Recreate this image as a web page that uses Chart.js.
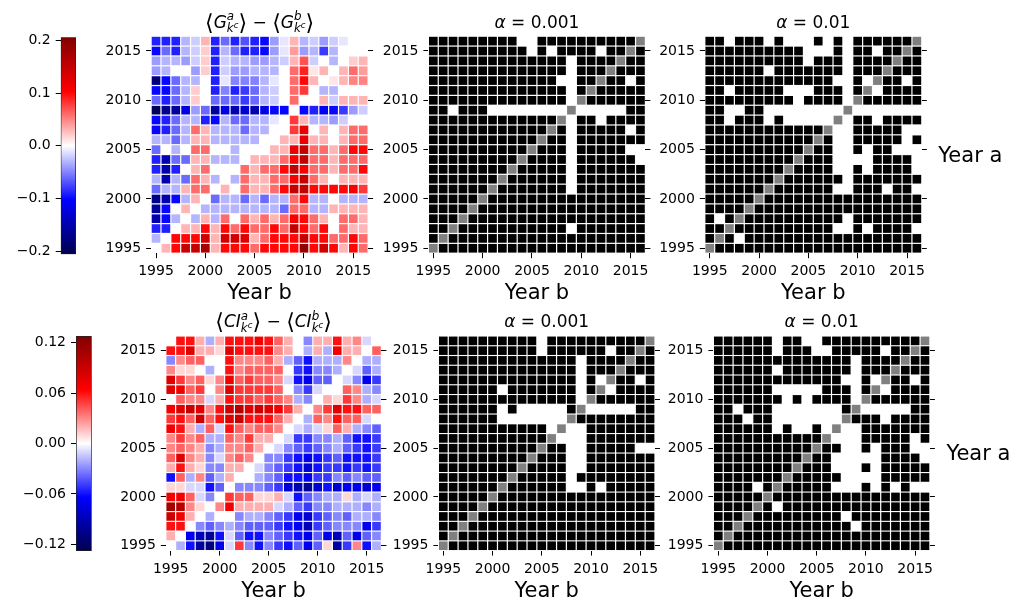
<!DOCTYPE html>
<html>
<head>
<meta charset="utf-8">
<script src="https://cdn.jsdelivr.net/npm/chart.js@4.4.0/dist/chart.umd.min.js"></script>
<style>
  html, body { margin: 0; padding: 0; background: #fff; }
  #wrap { position: relative; width: 1022px; height: 603px; overflow: hidden; background: #fff; }
  #wrap canvas { position: absolute; left: 0; top: 0; }
</style>
</head>
<body>
<div id="wrap"></div>
<script>
// ---- data -------------------------------------------------------------
const years = [1995,1996,1997,1998,1999,2000,2001,2002,2003,2004,2005,2006,2007,2008,2009,2010,2011,2012,2013,2014,2015,2016];
const rowYears = [2016,2015,2014,2013,2012,2011,2010,2009,2008,2007,2006,2005,2004,2003,2002,2001,2000,1999,1998,1997,1996,1995];
const tickYears = [1995,2000,2005,2010,2015];

const gTicks = [-0.2,-0.1,0,0.1,0.2];
const gTickLabels = ['\u22120.2','\u22120.1','0.0','0.1','0.2'];
const ciTicks = [-0.12,-0.06,0,0.06,0.12];
const ciTickLabels = ['\u22120.12','\u22120.06','0.00','0.06','0.12'];

// <G^a> - <G^b>, one row per year a (2016 at the top), columns are year b 1995..2016
const gDiff = [
  [-0.09,-0.09,-0.09,-0.03,-0.02,0.03,-0.09,-0.06,-0.09,-0.07,-0.09,-0.10,-0.04,-0.01,0.03,-0.03,-0.02,-0.04,-0.02,-0.01,0.00,0.00],
  [-0.10,-0.06,-0.09,-0.03,-0.02,0.02,-0.09,-0.03,-0.06,-0.09,-0.09,-0.10,-0.04,-0.01,0.04,-0.04,-0.03,-0.08,-0.03,0.00,0.00,0.00],
  [-0.04,-0.03,-0.03,-0.04,-0.02,0.02,-0.09,-0.02,-0.03,-0.03,-0.04,-0.04,-0.03,-0.02,0.03,0.07,-0.02,0.00,-0.03,0.00,0.02,0.03],
  [-0.04,-0.03,0.00,0.00,-0.04,0.02,-0.09,-0.02,-0.04,-0.04,-0.03,-0.03,-0.03,0.00,0.06,0.09,0.01,0.03,0.00,0.03,0.06,0.04],
  [-0.18,-0.10,-0.06,-0.03,-0.03,0.00,-0.09,-0.01,-0.05,-0.05,-0.05,-0.03,-0.01,0.00,0.06,0.10,0.03,0.00,0.01,0.03,0.05,0.05],
  [-0.10,-0.10,-0.06,-0.03,0.02,0.00,-0.09,-0.05,-0.09,-0.08,-0.06,-0.03,-0.02,0.00,0.06,0.08,0.00,-0.03,-0.03,0.00,0.00,0.00],
  [-0.06,-0.09,-0.06,-0.03,0.02,0.00,-0.06,-0.06,-0.06,-0.08,-0.06,-0.03,-0.02,0.00,0.06,0.00,0.00,0.03,-0.02,0.03,0.03,0.03],
  [-0.20,-0.17,-0.16,-0.12,-0.04,-0.06,-0.16,-0.12,-0.15,-0.13,-0.15,-0.12,-0.10,-0.10,0.00,-0.10,-0.09,-0.11,-0.10,-0.08,-0.04,-0.02],
  [-0.10,-0.09,-0.06,-0.03,-0.03,-0.09,-0.10,-0.03,-0.06,-0.06,-0.03,-0.03,-0.01,0.00,0.08,0.03,-0.03,-0.03,-0.04,-0.02,0.00,0.00],
  [-0.10,-0.09,-0.06,-0.03,0.06,0.03,-0.03,-0.03,-0.03,-0.06,-0.03,-0.03,0.00,0.00,0.08,0.12,0.00,0.03,0.00,0.03,0.06,0.06],
  [-0.03,-0.03,-0.06,-0.03,0.03,0.03,-0.03,-0.03,-0.03,-0.03,-0.03,0.00,0.00,0.03,0.03,0.12,0.03,0.03,0.00,0.03,0.06,0.06],
  [-0.06,0.00,-0.03,0.00,0.06,0.06,0.00,0.00,-0.03,0.00,0.00,0.00,0.03,0.03,0.12,0.15,0.06,0.06,0.03,0.06,0.10,0.10],
  [-0.09,-0.15,-0.06,-0.06,0.03,0.03,-0.03,-0.03,-0.03,0.00,0.03,0.03,0.03,0.06,0.11,0.15,0.06,0.06,0.03,0.06,0.06,0.06],
  [-0.09,-0.15,-0.09,0.00,0.03,0.06,0.00,0.00,0.00,0.06,0.03,0.06,0.06,0.10,0.15,0.11,0.06,0.06,0.03,0.06,0.06,0.10],
  [-0.03,-0.15,-0.03,-0.06,0.06,0.03,-0.03,0.00,-0.03,0.06,0.03,0.03,0.06,0.06,0.11,0.15,0.06,0.03,0.00,0.03,0.03,0.03],
  [-0.06,-0.03,-0.03,0.03,0.06,0.06,0.00,0.03,0.00,0.06,0.03,0.03,0.06,0.10,0.15,0.15,0.10,0.10,0.10,0.10,0.11,0.08],
  [-0.17,-0.15,-0.10,-0.03,0.03,0.00,-0.06,-0.03,-0.03,-0.06,-0.03,-0.06,-0.03,-0.03,0.06,0.10,-0.03,-0.03,0.00,-0.03,-0.03,-0.03],
  [-0.16,-0.10,0.00,0.03,0.00,-0.03,-0.03,-0.03,-0.03,-0.03,-0.03,-0.03,-0.03,-0.06,0.06,0.06,-0.03,-0.03,0.03,0.03,0.03,0.03],
  [-0.15,-0.10,-0.03,0.00,-0.03,0.03,-0.03,0.06,0.00,0.06,0.03,0.06,0.03,0.06,0.11,0.10,0.06,0.03,0.00,0.06,0.06,0.03],
  [-0.09,-0.09,0.00,0.03,0.03,0.10,0.03,0.10,0.06,0.10,0.06,0.06,0.10,0.06,0.15,0.10,0.06,0.10,0.00,0.06,0.03,0.03],
  [-0.03,0.00,0.10,0.10,0.10,0.14,0.03,0.14,0.14,0.13,0.03,0.06,0.10,0.10,0.10,0.15,0.10,0.10,0.06,0.06,0.10,0.06],
  [0.00,0.03,0.10,0.15,0.15,0.17,0.03,0.10,0.10,0.10,0.06,0.10,0.10,0.10,0.10,0.19,0.10,0.14,0.10,0.03,0.10,0.06]
];

// <CI^a> - <CI^b>, same layout
const ciDiff = [
  [0.00,0.06,0.06,0.02,-0.02,0.02,0.06,0.06,0.06,0.07,0.06,0.04,0.02,0.00,-0.03,0.02,0.02,0.06,0.02,0.03,-0.01,0.00],
  [0.06,0.06,0.08,0.02,0.02,0.01,0.08,0.06,0.06,0.06,0.06,0.03,0.02,0.00,-0.02,0.02,-0.02,0.07,0.02,0.02,0.00,0.04],
  [-0.03,0.03,0.04,0.04,0.00,0.00,0.06,0.03,0.03,0.03,0.04,0.02,-0.02,-0.04,-0.06,-0.02,-0.02,-0.02,0.03,0.00,-0.02,-0.02],
  [0.03,0.01,0.01,0.00,-0.02,0.00,0.06,0.03,0.04,0.04,0.04,0.04,0.00,-0.05,-0.06,-0.03,-0.03,-0.02,0.00,-0.01,-0.04,-0.02],
  [0.08,0.05,0.03,0.04,0.01,0.03,0.07,0.04,0.05,0.04,0.04,0.03,-0.01,-0.06,-0.07,-0.04,-0.04,0.00,-0.01,-0.03,-0.07,-0.05],
  [0.08,0.07,0.04,0.05,0.00,0.03,0.08,0.05,0.05,0.05,0.05,0.04,0.00,-0.03,-0.05,-0.01,0.00,0.00,0.04,0.03,-0.02,-0.03],
  [0.00,0.04,0.03,0.03,-0.01,0.02,0.06,0.05,0.05,0.04,0.05,0.04,0.03,-0.02,-0.03,0.00,0.02,0.01,0.05,0.03,-0.02,-0.01],
  [0.07,0.08,0.09,0.08,0.03,0.06,0.09,0.10,0.08,0.09,0.08,0.07,0.05,0.02,0.00,0.03,0.05,0.08,0.06,0.06,0.04,0.04],
  [0.05,0.06,0.04,0.09,0.04,0.06,0.08,0.09,0.06,0.06,0.06,0.04,0.02,0.00,-0.02,0.04,0.03,0.06,0.04,0.04,-0.01,0.00],
  [0.07,0.06,0.02,-0.02,0.04,-0.01,0.06,0.04,0.03,0.04,0.04,0.03,0.00,-0.01,-0.02,-0.01,0.01,0.04,0.02,-0.02,-0.03,-0.04],
  [0.03,0.05,0.03,0.04,-0.02,-0.02,0.04,0.03,0.05,0.02,0.02,0.00,-0.01,-0.05,-0.05,-0.03,-0.03,-0.02,-0.04,-0.06,-0.06,-0.05],
  [0.03,0.04,0.03,0.02,-0.03,-0.02,0.03,0.03,0.04,0.02,0.00,-0.01,-0.03,-0.04,-0.05,-0.04,-0.03,-0.02,-0.04,-0.05,-0.06,-0.05],
  [0.04,0.08,0.03,0.02,-0.03,-0.01,0.03,0.04,0.03,0.00,-0.03,-0.03,-0.05,-0.06,-0.07,-0.06,-0.05,-0.04,-0.06,-0.06,-0.06,-0.05],
  [0.02,0.06,0.02,0.01,-0.03,-0.03,0.02,0.02,0.00,-0.01,-0.03,-0.04,-0.05,-0.06,-0.08,-0.06,-0.05,-0.05,-0.06,-0.05,-0.06,-0.05],
  [-0.06,0.04,-0.02,0.03,-0.04,-0.02,0.02,0.00,0.00,-0.02,-0.03,-0.04,-0.06,-0.06,-0.07,-0.05,-0.05,-0.03,-0.04,-0.03,-0.04,-0.04],
  [0.01,0.01,-0.01,-0.01,-0.06,-0.04,0.00,-0.03,-0.03,-0.03,-0.04,-0.05,-0.08,-0.09,-0.10,-0.08,-0.06,-0.08,-0.07,-0.07,-0.08,-0.07],
  [0.07,0.07,0.04,-0.01,-0.03,0.00,0.05,0.04,0.04,0.01,0.01,0.02,-0.01,-0.06,-0.04,-0.03,-0.02,-0.02,0.01,-0.02,-0.01,-0.02],
  [0.11,0.10,0.03,0.01,0.00,0.03,0.07,0.02,0.02,0.02,0.02,-0.01,-0.02,-0.04,-0.05,-0.03,-0.03,-0.02,-0.02,-0.02,-0.03,-0.02],
  [0.09,0.07,0.02,0.00,-0.02,0.00,0.00,-0.03,-0.02,-0.02,-0.03,-0.04,-0.05,-0.07,-0.08,-0.05,-0.04,-0.03,-0.04,-0.02,-0.02,-0.03],
  [0.06,0.06,0.00,-0.03,-0.04,-0.03,-0.02,-0.03,-0.04,-0.04,-0.04,-0.05,-0.06,-0.07,-0.09,-0.05,-0.04,-0.03,-0.03,-0.03,-0.07,-0.05],
  [0.02,0.00,-0.07,-0.09,-0.10,-0.06,-0.01,-0.04,-0.06,-0.06,-0.03,-0.04,-0.05,-0.06,-0.07,-0.04,-0.07,-0.09,-0.04,-0.07,-0.04,-0.03],
  [0.00,-0.02,-0.06,-0.10,-0.11,-0.07,-0.01,0.05,-0.03,-0.06,-0.03,-0.05,-0.06,-0.04,-0.07,-0.04,0.01,-0.10,-0.05,0.03,-0.06,-0.02]
];

// test outcome for each pair: 1 = black, 0 = white, 2 = same year
const gSig001 = [
  '1111111110011111111112','1111111111010111101121','1111111111111101111211','1111111111111101112111',
  '1111111111111001121101','1111111111111101211111','1111111111111102111111','1101110000000020000011',
  '1111111111111201101111','1111111111112101111101','1111111111121101111111','1111111111211101111100',
  '1111111112111101111110','1111111121111101111111','1111111211111101111111','1111112111111101111111',
  '1111121111111111111111','1111211111111111111111','1112111111111111111111','1121111111111101111111',
  '1211111111111111111111','2111111111111111111111'
];
const gSig01 = [
  '1101110100010101111112','1111111111000101101121','1111111111011101111211','1111110111111101112111',
  '1111111111111001021101','1101111100011101201111','1111111110111102111111','1100110000000020000000',
  '1101110100000201101111','1111111111112001111100','1111111111121001111101','1111111111211001011000',
  '1111111112111000011110','1111111121111001011110','1111111211111101111111','1111112111111001110110',
  '1111121111111111111111','1111211111111111111111','1012111111111101111111','1121111111111001011110',
  '1210111111111111111111','2111111111111111111111'
];
const ciSig001 = [
  '1111111111011111111112','1111111111011111101121','1111111111111101111211','1111111111111101112111',
  '1111111111111101021101','1111110111111101201111','1111111111111102111111','1111110100000120000011',
  '1111110000000211111111','1111111111102001111111','1111111111120001111111','1111111111211001111100',
  '1111111112111001111111','1111111121111001111111','1111111211111011111111','1111112111111001011111',
  '1111121111111111111111','1111211111111111111111','1112111111111111111111','1121111111111111111111',
  '1211111111111111111111','2111111111111111111111'
];
const ciSig01 = [
  '1111110110011111111112','1111110111001111101121','1111111111111101111211','1111110111111101112111',
  '1111111111111001021101','1111110000011101201111','1111111010111102111111','1101110000000120000011',
  '1110110000000211101111','1111110100102001111111','1111111111120001111101','1111111111211001011100',
  '1111111112110000011110','1111111121110001011111','1111111211111000011111','1111012111110001010100',
  '1111121111111111111111','1111210111111111111111','1112111111111011111111','1121111111111101111111',
  '1211111111111111111111','2111111111111111111111'
];

// ---- drawing helpers --------------------------------------------------
const FONT = "'DejaVu Sans', sans-serif";
const W = 1022, H = 603;
Chart.defaults.font.family = FONT;
Chart.defaults.color = '#000';
const wrap = document.getElementById('wrap');

function addCanvas() {
  const c = document.createElement('canvas');
  c.width = W; c.height = H;
  c.style.width = W + 'px'; c.style.height = H + 'px';
  wrap.appendChild(c);
  return c;
}

// matplotlib "seismic" colormap
const seismicStops = [[0, 0, 0, 77], [0.25, 0, 0, 255], [0.5, 255, 255, 255], [0.75, 255, 0, 0], [1, 128, 0, 0]];
function seismic(t) {
  t = Math.max(0, Math.min(1, t));
  for (let i = 1; i < seismicStops.length; i++) {
    if (t <= seismicStops[i][0]) {
      const a = seismicStops[i - 1], b = seismicStops[i];
      const f = (t - a[0]) / (b[0] - a[0]);
      const c = k => Math.round(a[k] + (b[k] - a[k]) * f);
      return `rgb(${c(1)},${c(2)},${c(3)})`;
    }
  }
  return 'rgb(128,0,0)';
}
const sigColors = ['#ffffff', '#000000', '#808080'];

function toRows(strs) { return strs.map(s => s.split('').map(Number)); }

// text with simple super/subscripts
function mathWidth(ctx, items, size) {
  let w = 0;
  items.forEach(it => {
    if (it.sup || it.sub) {
      w += Math.max(mathWidth(ctx, it.sup || [], size * 0.7), mathWidth(ctx, it.sub || [], size * 0.7));
    } else {
      ctx.font = `${it.it ? 'italic ' : ''}${size * (it.s || 1)}px ${FONT}`;
      w += ctx.measureText(it.t).width;
    }
  });
  return w;
}
function mathDraw(ctx, items, x, y, size) {
  items.forEach(it => {
    if (it.sup || it.sub) {
      const ws = it.sup ? mathDraw(ctx, it.sup, x, y - size * 0.44, size * 0.7) - x : 0;
      const wb = it.sub ? mathDraw(ctx, it.sub, x, y + size * 0.26, size * 0.7) - x : 0;
      x += Math.max(ws, wb);
    } else {
      const s = size * (it.s || 1);
      ctx.font = `${it.it ? 'italic ' : ''}${s}px ${FONT}`;
      ctx.fillText(it.t, x, y - (it.up || 0) * size);
      x += ctx.measureText(it.t).width;
    }
  });
  return x;
}
function diffTitle(letters) {
  const one = sup => [
    { t: '\u27E8', s: 1.3, up: -0.12 },
    ...letters.map(l => ({ t: l, it: true })),
    { sup: [{ t: sup, it: true }], sub: [{ t: 'k', it: true }, { t: 'c', it: true, s: 0.72, up: 0.3 }] },
    { t: '\u27E9', s: 1.3, up: -0.12 }
  ];
  return [...one('a'), { t: ' \u2212 ' }, ...one('b')];
}
function alphaTitle(level) { return [{ t: '\u03B1', it: true }, { t: ' = ' + level }]; }

function yearAxis(pos, size, showLabels) {
  const horiz = pos === 'bottom';
  return {
    type: 'linear', position: pos, min: 1994.5, max: 2016.5,
    afterBuildTicks: s => { s.ticks = tickYears.map(v => ({ value: v })); },
    afterFit: s => { if (horiz) s.height = size; else s.width = size; },
    ticks: { display: showLabels, callback: v => String(v), color: '#000', font: { family: FONT, size: 14 },
             padding: 5, maxRotation: 0, minRotation: 0, autoSkip: false },
    grid: { display: true, drawOnChartArea: false, drawTicks: true, tickLength: 5, tickColor: '#000', tickWidth: 1 },
    border: { display: false }
  };
}

function panelText(p) {
  return {
    id: 'panelText',
    afterDraw(chart) {
      const ctx = chart.ctx, a = chart.chartArea;
      const cx = (a.left + a.right) / 2;
      ctx.save();
      ctx.fillStyle = '#000';
      ctx.textAlign = 'left';
      ctx.textBaseline = 'alphabetic';
      const tw = mathWidth(ctx, p.title, 17);
      mathDraw(ctx, p.title, cx - tw / 2, a.top - 8.7, 17);
      ctx.font = `21px ${FONT}`;
      ctx.textAlign = 'center';
      ctx.fillText('Year b', cx, a.bottom + 46);
      if (p.yearA) {
        ctx.textAlign = 'left';
        ctx.fillText('Year a', a.right + 16.5, (a.top + a.bottom) / 2 + 17);
      }
      ctx.restore();
    }
  };
}

function heatmap(p) {
  const canvas = addCanvas();
  const pts = [];
  p.rows.forEach((row, i) => row.forEach((v, j) => pts.push({ x: years[j], y: rowYears[i], v })));
  const cellRadius = c => {
    const xs = c.chart.scales.x;
    const w = Math.abs(xs.getPixelForValue(1) - xs.getPixelForValue(0));
    return (w - 1.2) / Math.SQRT2;
  };
  const yW = 60, y2W = 14, xH = 60;
  return new Chart(canvas, {
    type: 'scatter',
    data: { datasets: [{
      data: pts, pointStyle: 'rect', pointRadius: cellRadius, pointHoverRadius: cellRadius,
      pointBorderWidth: 0, pointBackgroundColor: c => p.color(c.raw.v), clip: false
    }] },
    options: {
      responsive: false, animation: false, events: [], devicePixelRatio: 1,
      layout: { autoPadding: false, padding: { left: p.area.left - yW, right: W - p.area.right - y2W,
                top: p.area.top, bottom: H - p.area.bottom - xH } },
      plugins: { legend: { display: false }, tooltip: { enabled: false } },
      scales: { x: yearAxis('bottom', xH, true), y: yearAxis('left', yW, true), y2: yearAxis('right', y2W, false) }
    },
    plugins: [panelText(p)]
  });
}

function colorbar(p) {
  const canvas = addCanvas();
  const yW = 60;
  const grad = c => {
    const chart = c.chart;
    if (!chart.chartArea) return 'transparent';
    const ys = chart.scales.y;
    const g = chart.ctx.createLinearGradient(0, ys.getPixelForValue(-p.vmax), 0, ys.getPixelForValue(p.vmax));
    seismicStops.forEach(s => g.addColorStop(s[0], `rgb(${s[1]},${s[2]},${s[3]})`));
    return g;
  };
  return new Chart(canvas, {
    type: 'bar',
    data: { labels: [''], datasets: [{ data: [[-p.vmax, p.vmax]], backgroundColor: grad, borderColor: '#222',
            borderWidth: 1, borderSkipped: false, barPercentage: 1, categoryPercentage: 1 }] },
    options: {
      responsive: false, animation: false, events: [], devicePixelRatio: 1,
      layout: { autoPadding: false, padding: { left: p.area.left - yW, right: W - p.area.right,
                top: p.area.top, bottom: H - p.area.bottom } },
      plugins: { legend: { display: false }, tooltip: { enabled: false } },
      scales: {
        x: { display: false },
        y: { min: -p.vmax, max: p.vmax,
             afterBuildTicks: s => { s.ticks = p.ticks.map(v => ({ value: v })); },
             afterFit: s => { s.width = yW; },
             ticks: { callback: (v, i) => p.labels[i], color: '#000', font: { family: FONT, size: 14 }, padding: 5 },
             grid: { drawOnChartArea: false, drawTicks: true, tickLength: 5, tickColor: '#000' },
             border: { display: false } }
      }
    }
  });
}

// ---- panels -----------------------------------------------------------
const gColor = v => seismic((v + 0.206) / 0.412);
const ciColor = v => seismic((v + 0.128) / 0.256);
const sigColor = v => sigColors[v];

const topY = { top: 36.2, bottom: 253.2 };
const botY = { top: 336.0, bottom: 550.6 };

heatmap({ area: { left: 151.1, right: 368.1, ...topY }, rows: gDiff, color: gColor, title: diffTitle(['G']) });
heatmap({ area: { left: 428.4, right: 645.4, ...topY }, rows: toRows(gSig001), color: sigColor, title: alphaTitle('0.001') });
heatmap({ area: { left: 704.8, right: 921.8, ...topY }, rows: toRows(gSig01), color: sigColor, title: alphaTitle('0.01'), yearA: true });

heatmap({ area: { left: 165.8, right: 381.4, ...botY }, rows: ciDiff, color: ciColor, title: diffTitle(['C', 'I']) });
heatmap({ area: { left: 438.4, right: 655.0, ...botY }, rows: toRows(ciSig001), color: sigColor, title: alphaTitle('0.001') });
heatmap({ area: { left: 713.4, right: 929.9, ...botY }, rows: toRows(ciSig01), color: sigColor, title: alphaTitle('0.01'), yearA: true });

colorbar({ area: { left: 60.7, right: 76.0, top: 37.3, bottom: 254.3 }, vmax: 0.206, ticks: gTicks, labels: gTickLabels });
colorbar({ area: { left: 76.0, right: 91.7, top: 336.0, bottom: 551.0 }, vmax: 0.128, ticks: ciTicks, labels: ciTickLabels });
</script>
</body>
</html>
